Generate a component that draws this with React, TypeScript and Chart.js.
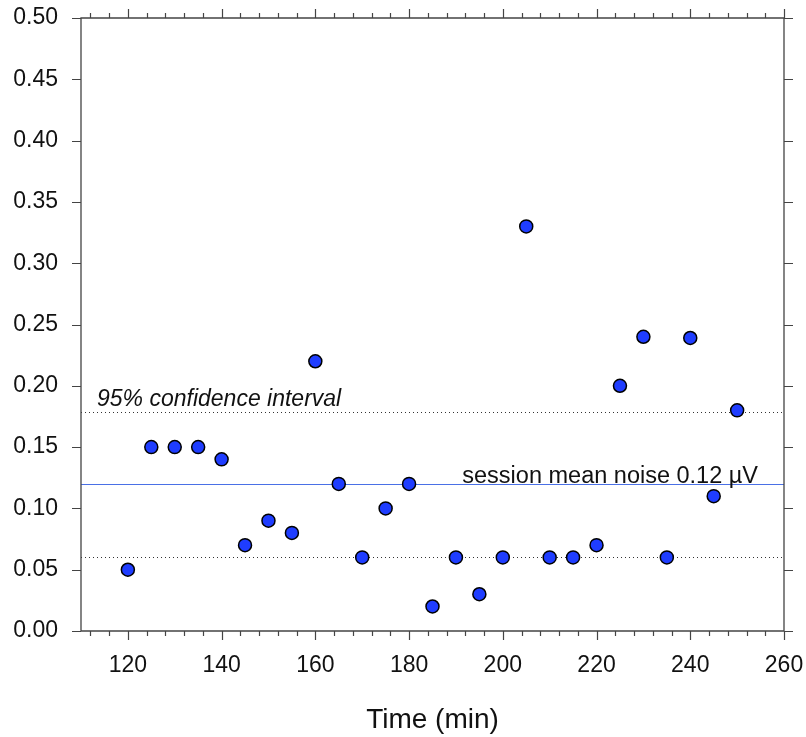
import React, { useEffect, useRef } from "react";
import { Chart, registerables } from "chart.js";

Chart.register(...registerables);

const times = [120, 125, 130, 135, 140, 145, 150, 155, 160, 165, 170, 175, 180, 185, 190, 195, 200, 205, 210, 215, 220, 225, 230, 235, 240, 245, 250];
const noise = [0.05, 0.15, 0.15, 0.15, 0.14, 0.07, 0.09, 0.08, 0.22, 0.12, 0.06, 0.10, 0.12, 0.02, 0.06, 0.03, 0.06, 0.33, 0.06, 0.06, 0.07, 0.20, 0.24, 0.06, 0.239, 0.11, 0.18];
const xTickValues = [120, 140, 160, 180, 200, 220, 240, 260];
const yTickValues = [0.0, 0.05, 0.1, 0.15, 0.2, 0.25, 0.3, 0.35, 0.4, 0.45, 0.5];
const xMin = 110;
const xMax = 260;
const yMin = 0;
const yMax = 0.5;
const xMinorStep = 4;
const xMinorStart = 112;
const meanNoise = 0.12;
const ciLower = 0.06;
const ciUpper = 0.179;
const meanLabel = "session mean noise 0.12 µV";
const ciLabel = "95% confidence interval";
const xTitle = "Time (min)";

const FONT = "'Liberation Sans', Arial, sans-serif";

const overlayPlugin = {
  id: "overlay",
  beforeDatasetsDraw(chart: any) {
    const { ctx, chartArea } = chart;
    const y = chart.scales.y;
    const { left, right } = chartArea;
    ctx.save();
    ctx.strokeStyle = "#333";
    ctx.lineWidth = 1;
    ctx.setLineDash([1, 3]);
    [ciLower, ciUpper].forEach((v) => {
      const py = Math.round(y.getPixelForValue(v)) + 0.5;
      ctx.beginPath();
      ctx.moveTo(left, py);
      ctx.lineTo(right, py);
      ctx.stroke();
    });
    ctx.setLineDash([]);
    ctx.strokeStyle = "#4a70e6";
    ctx.lineWidth = 1.2;
    const pm = Math.round(y.getPixelForValue(meanNoise)) + 0.5;
    ctx.beginPath();
    ctx.moveTo(left, pm);
    ctx.lineTo(right, pm);
    ctx.stroke();
    ctx.fillStyle = "#111";
    ctx.font = `italic 23px ${FONT}`;
    ctx.textAlign = "left";
    ctx.textBaseline = "alphabetic";
    ctx.fillText(ciLabel, left + 16, y.getPixelForValue(ciUpper) - 6);
    ctx.font = `23.5px ${FONT}`;
    ctx.textAlign = "right";
    ctx.fillText(meanLabel, right - 26, pm - 2);
    ctx.restore();
  },
  afterDraw(chart: any) {
    const { ctx, chartArea } = chart;
    const x = chart.scales.x;
    const y = chart.scales.y;
    const { left, right, top, bottom } = chartArea;
    ctx.save();
    ctx.strokeStyle = "#444";
    ctx.lineWidth = 1.3;
    ctx.beginPath();
    ctx.rect(left, top, right - left, bottom - top);
    ctx.stroke();
    ctx.lineWidth = 1.2;
    ctx.beginPath();
    for (let v = xMinorStart; v <= xMax + 1e-9; v += xMinorStep) {
      const px = Math.round(x.getPixelForValue(v)) + 0.5;
      const major = xTickValues.includes(v);
      const len = major ? 9 : 5;
      ctx.moveTo(px, bottom);
      ctx.lineTo(px, bottom + len);
      ctx.moveTo(px, top);
      ctx.lineTo(px, top - len);
    }
    yTickValues.forEach((v) => {
      const py = Math.round(y.getPixelForValue(v)) + 0.5;
      ctx.moveTo(left, py);
      ctx.lineTo(left - 9, py);
      ctx.moveTo(right, py);
      ctx.lineTo(right + 9, py);
    });
    ctx.stroke();
    ctx.restore();
  },
};

export default function App() {
  const ref = useRef<HTMLCanvasElement | null>(null);
  useEffect(() => {
    document.body.style.margin = "0";
    document.body.style.overflow = "hidden";
    const canvas = ref.current!;
    const chart = new Chart(canvas, {
      type: "scatter",
      data: {
        datasets: [
          {
            data: times.map((t, i) => ({ x: t, y: noise[i] })),
            backgroundColor: "#1f3dff",
            borderColor: "#000",
            borderWidth: 1.5,
            pointRadius: 6.5,
          },
        ],
      },
      options: {
        animation: false,
        responsive: false,
        devicePixelRatio: 1,
        layout: { padding: { top: 18, right: 22, left: 0, bottom: 0 } },
        plugins: { legend: { display: false }, tooltip: { enabled: false } },
        scales: {
          x: {
            type: "linear",
            min: xMin,
            max: xMax,
            grid: { display: false, drawTicks: false },
            border: { display: false },
            afterBuildTicks: (s: any) => {
              s.ticks = xTickValues.map((v) => ({ value: v }));
            },
            afterFit: (s: any) => {
              s.height = 106;
              s.paddingLeft = 0;
              s.paddingRight = 0;
            },
            ticks: {
              padding: 21,
              color: "#111",
              font: { family: FONT, size: 23 },
              maxRotation: 0,
              callback: (v: any) => String(v),
            },
            title: {
              display: true,
              text: xTitle,
              color: "#111",
              font: { family: FONT, size: 28 },
              padding: { top: 0, bottom: 0 },
            },
          },
          y: {
            type: "linear",
            min: yMin,
            max: yMax,
            grid: { display: false, drawTicks: false },
            border: { display: false },
            afterBuildTicks: (s: any) => {
              s.ticks = yTickValues.map((v) => ({ value: v }));
            },
            afterFit: (s: any) => {
              s.width = 81;
              s.paddingTop = 0;
              s.paddingBottom = 0;
            },
            ticks: {
              padding: 23,
              color: "#111",
              font: { family: FONT, size: 23 },
              callback: (v: any) => Number(v).toFixed(2),
            },
          },
        },
      },
      plugins: [overlayPlugin],
    });
    return () => chart.destroy();
  }, []);
  return (
    <div style={{ width: 806, height: 737, background: "#fff" }}>
      <canvas ref={ref} width={806} height={737} style={{ display: "block", width: 806, height: 737 }} />
    </div>
  );
}
